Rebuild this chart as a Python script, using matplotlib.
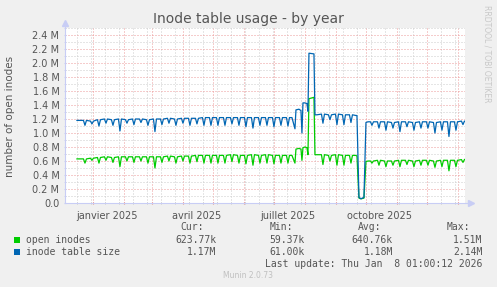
import pandas as pd
import matplotlib
matplotlib.use("Agg")
import matplotlib.pyplot as plt
import matplotlib.dates as mdates
from matplotlib.patches import Rectangle
from matplotlib.ticker import MultipleLocator, FixedLocator

# weekly dips (one per week, Tuesdays)
dip_dates = pd.date_range("2024-12-24", periods=55, freq="7D")

# values in millions, one entry per week (None = covered by the event points)
size_top = [1.18, 1.17, 1.19, 1.20, 1.19, 1.20, 1.19, 1.20, 1.20, 1.19, 1.20, 1.20,
            1.21, 1.20, 1.21, 1.21, 1.21, 1.22, 1.22, 1.22, 1.22, 1.22, 1.22, 1.22,
            1.22, 1.22, 1.22, 1.22, 1.22, 1.22, None, None, None, None,
            1.27, 1.26, 1.27, 1.26, 1.26, None, None,
            1.16, 1.16, 1.16, 1.15, 1.16, 1.16, 1.15, 1.16, 1.16, 1.15, 1.16, 1.16, 1.16, 1.17]
size_dip = [1.11, 1.13, 1.10, 1.14, 1.11, 1.03, 1.14, 1.12, 1.15, 1.11, 1.02, 1.12,
            1.14, 1.11, 1.14, 1.11, 1.13, 1.11, 1.11, 1.11, 1.11, 1.13, 1.11, 1.09,
            1.07, 1.11, 1.11, 1.09, 1.11, 1.10, None, None, None, None,
            1.14, 1.19, 1.12, 1.12, 1.15, None, None,
            1.11, 1.07, 1.04, 1.07, 1.02, 1.09, 1.04, 1.07, 1.07, 1.00, 1.04, 0.95, 1.04, 1.12]
open_top = [0.63, 0.64, 0.65, 0.66, 0.65, 0.66, 0.66, 0.66, 0.66, 0.66, 0.66, 0.66,
            0.67, 0.66, 0.67, 0.67, 0.68, 0.68, 0.68, 0.68, 0.68, 0.69, 0.68, 0.68,
            0.69, 0.68, 0.69, 0.68, 0.68, 0.68, None, None, None, None,
            0.69, 0.68, 0.69, 0.68, 0.68, None, None,
            0.60, 0.61, 0.60, 0.60, 0.61, 0.61, 0.60, 0.61, 0.61, 0.60, 0.61, 0.61, 0.61, 0.62]
open_dip = [0.57, 0.61, 0.57, 0.61, 0.58, 0.52, 0.60, 0.58, 0.60, 0.57, 0.50, 0.58,
            0.60, 0.57, 0.60, 0.57, 0.59, 0.57, 0.57, 0.57, 0.57, 0.59, 0.57, 0.56,
            0.54, 0.57, 0.57, 0.56, 0.57, 0.57, None, None, None, None,
            0.55, 0.60, 0.54, 0.54, 0.57, None, None,
            0.57, 0.54, 0.52, 0.54, 0.52, 0.55, 0.52, 0.54, 0.54, 0.51, 0.52, 0.46, 0.52, 0.58]

# irregular stretches: July/August spike and the late September outage
event_dates = ["2025-07-19", "2025-07-22", "2025-07-23", "2025-07-26", "2025-07-28",
               "2025-07-29", "2025-07-30", "2025-08-01", "2025-08-03", "2025-08-04",
               "2025-08-05", "2025-08-10", "2025-08-11", "2025-08-13",
               "2025-09-21", "2025-09-22", "2025-09-24", "2025-09-26", "2025-09-29",
               "2025-10-01", "2025-10-03"]
event_open = [0.68, 0.57, 0.77, 0.78, 0.77, 0.61, 0.79, 0.80, 0.79, 0.69,
              1.49, 1.51, 0.69, 0.69,
              0.68, 0.67, 0.07, 0.0594, 0.07, 0.59, 0.60]
event_size = [1.22, 1.06, 1.33, 1.34, 1.32, 1.00, 1.43, 1.43, 1.42, 1.31,
              2.14, 2.13, 1.26, 1.26,
              1.25, 1.25, 0.08, 0.061, 0.08, 1.15, 1.16]

first_date, first_open, first_size = "2024-12-16", 0.63, 1.18
last_date, last_open, last_size = "2026-01-08", 0.6238, 1.17

y_labels = ["0.0", "0.2 M", "0.4 M", "0.6 M", "0.8 M", "1.0 M", "1.2 M",
            "1.4 M", "1.6 M", "1.8 M", "2.0 M", "2.2 M", "2.4 M"]
x_labels = ["janvier 2025", "avril 2025", "juillet 2025", "octobre 2025"]
x_label_dates = ["2025-01-15", "2025-04-15", "2025-07-15", "2025-10-15"]

GREEN = "#00cc00"
BLUE = "#0066b3"
TXT = "#555555"
AXIS = "#c8cdf5"


def build(top, dip, ev, first, last):
    half = pd.Timedelta(hours=36)
    pts = [(pd.Timestamp(first_date), first)]
    for d, t, v in zip(dip_dates, top, dip):
        if t is None:
            continue
        pts += [(d - half, t), (d, v), (d + half, t)]
    pts += [(pd.Timestamp(x), y) for x, y in zip(event_dates, ev)]
    pts.append((pd.Timestamp(last_date), last))
    pts.sort(key=lambda p: p[0])
    xs, ys = zip(*pts)
    return list(xs), list(ys)


W, H = 497, 287
fig = plt.figure(figsize=(W / 100, H / 100), dpi=100, facecolor="#f0f0f0")


def fx(x):
    return x / W


def fy(y):
    return 1 - y / H


ax = fig.add_axes([65 / W, (H - 203) / H, 400 / W, 175 / H])
ax.set_facecolor("white")

xo, yo = build(open_top, open_dip, event_open, first_open, last_open)
xs, ys = build(size_top, size_dip, event_size, first_size, last_size)
ax.plot(xo, yo, color=GREEN, lw=0.9, zorder=3)
ax.plot(xs, ys, color=BLUE, lw=0.9, zorder=4)

ax.set_xlim(pd.Timestamp("2024-12-04 01:00"), pd.Timestamp("2026-01-08 01:00"))
ax.set_ylim(0, 2.5)

# grid
ax.yaxis.set_major_locator(MultipleLocator(0.2))
ax.yaxis.set_minor_locator(MultipleLocator(0.1))
ax.xaxis.set_major_locator(mdates.MonthLocator())
ax.xaxis.set_minor_locator(FixedLocator(mdates.date2num(
    pd.date_range("2024-12-16", "2026-01-08", freq="14D"))))
ax.grid(which="minor", color="#cccccc", lw=0.72, ls=(0, (1, 2)), zorder=1)
ax.grid(which="major", color="#ec9a9a", lw=0.72, ls=(0, (1, 2)), zorder=2)
ax.set_yticks([i * 0.2 for i in range(13)])
ax.set_yticklabels(y_labels)
ax.set_xticklabels([])
ax.tick_params(axis="y", which="both", colors=AXIS, labelcolor=TXT, labelsize=7,
               length=2, direction="inout", pad=3)
ax.tick_params(axis="x", which="major", colors="#e08080", length=2, direction="inout")
ax.tick_params(axis="x", which="minor", colors="#c0c0c0", length=2, direction="inout")
for s in ["top", "right"]:
    ax.spines[s].set_visible(False)
for s in ["left", "bottom"]:
    ax.spines[s].set_color(AXIS)
    ax.spines[s].set_linewidth(0.8)

for d, lab in zip(x_label_dates, x_labels):
    ax.text(pd.Timestamp(d), -0.048, lab, transform=ax.get_xaxis_transform(),
            ha="center", va="top", fontsize=7, color=TXT)

# axis arrows
ax.plot([0, 0], [1, 1.03], transform=ax.transAxes, color=AXIS, lw=0.8, clip_on=False)
ax.plot([0], [1.03], marker="^", ms=4, color=AXIS, transform=ax.transAxes, clip_on=False)
ax.plot([1, 1.015], [0, 0], transform=ax.transAxes, color=AXIS, lw=0.8, clip_on=False)
ax.plot([1.015], [0], marker=">", ms=4, color=AXIS, transform=ax.transAxes, clip_on=False)

# titles
fig.text(fx(248), fy(19), "Inode table usage - by year", ha="center", va="center",
         fontsize=10, color=TXT)
fig.text(fx(10), fy(116), "number of open inodes", rotation=90, ha="center",
         va="center", fontsize=7.5, color=TXT)
fig.text(fx(487), fy(5), "RRDTOOL / TOBI OETIKER", rotation=270, ha="center",
         va="top", fontsize=5.5, color="#c8c8c8")

# legend
mono = "DejaVu Sans Mono"
fig.text(fx(204), fy(227.5), "Cur:", ha="right", va="center", fontsize=7, family=mono, color=TXT)
fig.text(fx(293), fy(227.5), "Min:", ha="right", va="center", fontsize=7, family=mono, color=TXT)
fig.text(fx(381), fy(227.5), "Avg:", ha="right", va="center", fontsize=7, family=mono, color=TXT)
fig.text(fx(470), fy(227.5), "Max:", ha="right", va="center", fontsize=7, family=mono, color=TXT)

rows = [("open inodes", GREEN, ["623.77k", "59.37k", "640.76k", "1.51M"], 239.7),
        ("inode table size", BLUE, ["1.17M", "61.00k", "1.18M", "2.14M"], 251.7)]
for name, col, vals, y in rows:
    fig.patches.append(Rectangle((fx(14), fy(y + 3)), 6 / W, 6 / H, transform=fig.transFigure,
                                 facecolor=col, edgecolor="none"))
    fig.text(fx(26), fy(y), name, ha="left", va="center", fontsize=7, family=mono, color=TXT)
    for xe, v in zip([216.7, 305, 393, 482.7], vals):
        fig.text(fx(xe), fy(y), v, ha="right", va="center", fontsize=7, family=mono, color=TXT)

fig.text(fx(482.7), fy(263.7), "Last update: Thu Jan  8 01:00:12 2026", ha="right",
         va="center", fontsize=7, family=mono, color=TXT)
fig.text(fx(248), fy(276), "Munin 2.0.73", ha="center", va="center", fontsize=5.5,
         color="#c0c0c0")

fig.savefig("out.png", dpi=100, facecolor=fig.get_facecolor())
